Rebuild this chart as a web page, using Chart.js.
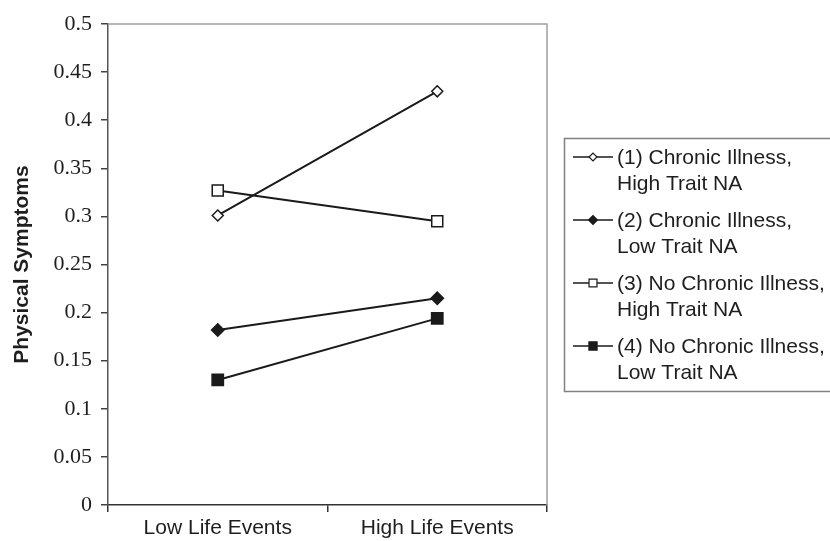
<!DOCTYPE html>
<html>
<head>
<meta charset="utf-8">
<script src="https://cdn.jsdelivr.net/npm/chart.js@4"></script>
<style>
  body { margin: 0; background: #fff; }
  #myChart { display: block; }
</style>
</head>
<body>
<canvas id="myChart" width="830" height="541"></canvas>
<script>
// values
const categories = ['Low Life Events', 'High Life Events'];
const chronicHighNA = [0.301, 0.430];
const chronicLowNA = [0.182, 0.215];
const noChronicHighNA = [0.327, 0.295];
const noChronicLowNA = [0.130, 0.194];
const seriesNames = [
    ['(1) Chronic Illness,', 'High Trait NA'],
    ['(2) Chronic Illness,', 'Low Trait NA'],
    ['(3) No Chronic Illness,', 'High Trait NA'],
    ['(4) No Chronic Illness,', 'Low Trait NA']
];

const ink = '#1a1a1a';

// grey frame on top and right of the plot area
const frame = {
    id: 'frame',
    beforeDatasetsDraw(chart) {
        const a = chart.chartArea;
        const c = chart.ctx;
        c.save();
        c.strokeStyle = '#a0a0a0';
        c.lineWidth = 1.5;
        c.beginPath();
        c.moveTo(a.left, a.top);
        c.lineTo(a.right, a.top);
        c.lineTo(a.right, a.bottom);
        c.stroke();
        c.restore();
    }
};

// legend drawn by hand, two lines per entry
const sideLegend = {
    id: 'sideLegend',
    afterDraw(chart) {
        const c = chart.ctx;
        c.save();
        c.strokeStyle = '#808080';
        c.lineWidth = 1.5;
        c.strokeRect(564.5, 138.5, 300, 253);
        chart.data.datasets.forEach((ds, i) => {
            let y = 157 + 63 * i;
            c.strokeStyle = ink;
            c.lineWidth = 1.5;
            c.beginPath();
            c.moveTo(573, y);
            c.lineTo(613, y);
            c.stroke();
            c.fillStyle = ds.pointBackgroundColor;
            c.strokeStyle = ink;
            c.lineWidth = 1.2;
            Chart.helpers.drawPoint(c, {
                pointStyle: ds.pointStyle,
                radius: ds.pointRadius * 0.72,
                rotation: 0,
                borderWidth: 1.2
            }, 593, y);
            c.fillStyle = '#1e1e1e';
            c.font = '21px "Liberation Sans", Arial, sans-serif';
            c.textBaseline = 'middle';
            c.textAlign = 'left';
            ds.label.forEach((line, k) => c.fillText(line, 617, y + 1 + 26 * k));
        });
        c.restore();
    }
};

const ctx = document.getElementById('myChart');

let chart = new Chart(ctx, {
    type: 'line',
    data: {
        labels: categories,
        datasets: [{
            label: seriesNames[0],
            data: chronicHighNA,
            pointStyle: 'rectRot',
            pointRadius: 5.5,
            pointBackgroundColor: '#fff'
        }, {
            label: seriesNames[1],
            data: chronicLowNA,
            pointStyle: 'rectRot',
            pointRadius: 6.2,
            pointBackgroundColor: ink
        }, {
            label: seriesNames[2],
            data: noChronicHighNA,
            pointStyle: 'rect',
            pointRadius: 7.8,
            pointBackgroundColor: '#fff'
        }, {
            label: seriesNames[3],
            data: noChronicLowNA,
            pointStyle: 'rect',
            pointRadius: 8,
            pointBackgroundColor: ink
        }].map(ds => Object.assign(ds, {
            borderColor: ink,
            borderWidth: 2,
            pointBorderColor: ink,
            pointBorderWidth: 1.5,
            tension: 0
        }))
    },
    options: {
        responsive: false,
        animation: false,
        layout: {
            padding: { left: 10, top: 24, right: 283, bottom: 0 }
        },
        plugins: {
            legend: { display: false },
            tooltip: { enabled: false }
        },
        scales: {
            x: {
                offset: true,
                afterFit: s => { s.height = 36; },
                grid: {
                    offset: true,
                    drawOnChartArea: false,
                    tickLength: 7,
                    color: '#333',
                    lineWidth: 1.5
                },
                border: { color: '#333', width: 1.5 },
                ticks: {
                    color: '#1e1e1e',
                    padding: 4,
                    font: { family: '"Liberation Sans", Arial, sans-serif', size: 21 }
                }
            },
            y: {
                min: 0,
                max: 0.5,
                afterFit: s => { s.width = 98; },
                grid: {
                    drawOnChartArea: false,
                    tickLength: 7,
                    color: '#444',
                    lineWidth: 1.5
                },
                border: { color: '#555', width: 1.5 },
                ticks: {
                    stepSize: 0.05,
                    color: '#1e1e1e',
                    padding: 9,
                    font: { family: '"Liberation Serif", "Times New Roman", serif', size: 22 },
                    callback: v => String(+v.toFixed(2))
                },
                title: {
                    display: true,
                    text: 'Physical Symptoms',
                    color: '#1e1e1e',
                    padding: 0,
                    font: { family: '"Liberation Sans", Arial, sans-serif', size: 21, weight: 'bold' }
                }
            }
        }
    },
    plugins: [frame, sideLegend]
});
</script>
</body>
</html>
